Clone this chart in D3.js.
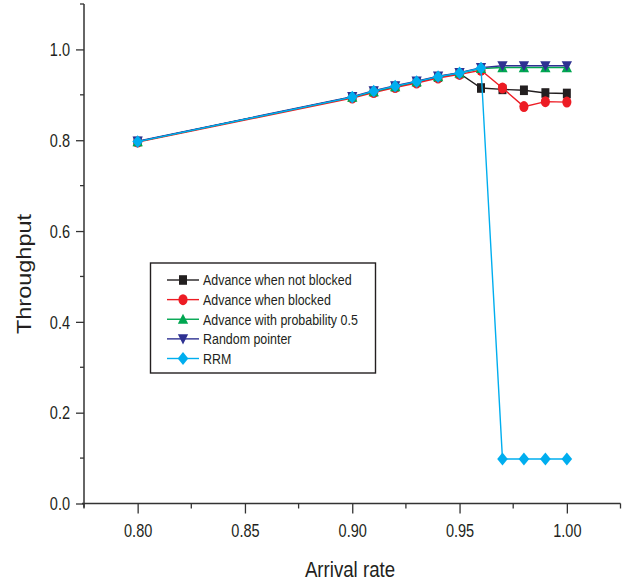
<!DOCTYPE html>
<html>
<head>
<meta charset="utf-8">
<script src="https://cdn.jsdelivr.net/npm/d3@7"></script>
<style>
  html, body { margin: 0; padding: 0; background: #fff; }
  svg { display: block; }
  text { font-family: "Liberation Sans", Arial, sans-serif; fill: #231f20; }
</style>
</head>
<body>
<svg id="chart" width="629" height="586"></svg>
<script>
// Arrival rates along the horizontal axis
const arrival = [0.80, 0.90, 0.91, 0.92, 0.93, 0.94, 0.95, 0.96, 0.97, 0.98, 0.99, 1.00];

// Throughput per scheduling policy
const notBlocked = [0.797, 0.895, 0.907, 0.918, 0.928, 0.939, 0.947, 0.915, 0.912, 0.910, 0.904, 0.903];
const blocked    = [0.796, 0.893, 0.905, 0.916, 0.926, 0.937, 0.945, 0.954, 0.915, 0.874, 0.885, 0.884];
const prob05     = [0.797, 0.895, 0.907, 0.918, 0.929, 0.940, 0.948, 0.958, 0.960, 0.960, 0.960, 0.960];
const randomPtr  = [0.798, 0.896, 0.909, 0.920, 0.930, 0.941, 0.949, 0.960, 0.964, 0.964, 0.964, 0.964];
const rrm        = [0.797, 0.895, 0.908, 0.919, 0.929, 0.940, 0.948, 0.959, 0.098, 0.098, 0.098, 0.098];

const seriesNames = ["Advance when not blocked", "Advance when blocked", "Advance with probability 0.5", "Random pointer", "RRM"];
const seriesValues = [notBlocked, blocked, prob05, randomPtr, rrm];

// Tick values and labels
const xMajorTicks = [0.80, 0.85, 0.90, 0.95, 1.00];
const xMinorTicks = [0.775, 0.825, 0.875, 0.925, 0.975, 1.025];
const yMajorTicks = [0.0, 0.2, 0.4, 0.6, 0.8, 1.0];
const yMinorTicks = [0.1, 0.3, 0.5, 0.7, 0.9, 1.1];

const xTitle = "Arrival rate";
const yTitle = "Throughput";

// Look of each series
const colors = ["#231f20", "#ed1c24", "#00a651", "#2e3192", "#00aeef"];
const shapes = ["square", "circle", "triangleUp", "triangleDown", "diamond"];

const SX = 0.83; // horizontal compression applied to glyphs and markers

const svg = d3.select("#chart");

const x = d3.scaleLinear().domain([0.775, 1.025]).range([84, 620.5]);
const y = d3.scaleLinear().domain([0, 1.1]).range([503.5, 4]);

function markerPath(shape) {
  switch (shape) {
    case "square": { const h = 4.8; return `M${-h},${-h}H${h}V${h}H${-h}Z`; }
    case "circle": { const r = 5.5; return `M${-r},0A${r},${r} 0 1,0 ${r},0A${r},${r} 0 1,0 ${-r},0Z`; }
    case "triangleUp": { const w = 6.2, t = 5.6, b = 4.6; return `M0,${-t}L${w},${b}L${-w},${b}Z`; }
    case "triangleDown": { const w = 6.2, t = 5.6, b = 4.6; return `M0,${t}L${w},${-b}L${-w},${-b}Z`; }
    case "diamond": { const r = 6.4; return `M0,${-r}L${r},0L0,${r}L${-r},0Z`; }
  }
}

// Axes
const axisColor = "#333";
const xAxisG = svg.append("g").attr("transform", `translate(0,${y(0)})`);
xAxisG.call(d3.axisBottom(x).tickValues(xMajorTicks).tickSize(10).tickSizeOuter(0).tickPadding(11)
  .tickFormat(d3.format(".2f")));
xAxisG.select(".domain").attr("stroke", axisColor).attr("stroke-width", 1.5)
  .attr("d", `M${x.range()[0] - 2},0H${x.range()[1]}`);
xAxisG.selectAll(".tick line").attr("stroke", axisColor).attr("stroke-width", 1.3);
xAxisG.selectAll(".tick text").attr("font-size", 17.5).attr("fill", "#231f20")
  .attr("font-family", "Liberation Sans, Arial, sans-serif")
  .attr("transform", `scale(${SX},1)`);
xAxisG.append("g").selectAll("line").data(xMinorTicks).join("line")
  .attr("x1", (d) => x(d)).attr("x2", (d) => x(d)).attr("y1", 0).attr("y2", 5)
  .attr("stroke", axisColor).attr("stroke-width", 1.3);

const yAxisG = svg.append("g").attr("transform", `translate(${x.range()[0]},0)`);
yAxisG.call(d3.axisLeft(y).tickValues(yMajorTicks).tickSize(8).tickSizeOuter(0).tickPadding(6)
  .tickFormat(d3.format(".1f")));
yAxisG.select(".domain").attr("stroke", axisColor).attr("stroke-width", 1.5)
  .attr("d", `M0,${y.range()[1]}V${y.range()[0] + 4}`);
yAxisG.selectAll(".tick line").attr("stroke", axisColor).attr("stroke-width", 1.3);
yAxisG.selectAll(".tick text").attr("font-size", 17.5).attr("fill", "#231f20")
  .attr("font-family", "Liberation Sans, Arial, sans-serif")
  .attr("x", -14 / SX).attr("dy", "0.36em")
  .attr("transform", `scale(${SX},1)`);
yAxisG.append("g").selectAll("line").data(yMinorTicks).join("line")
  .attr("x1", -4).attr("x2", 0).attr("y1", (d) => y(d)).attr("y2", (d) => y(d))
  .attr("stroke", axisColor).attr("stroke-width", 1.3);

// Axis titles
svg.append("g").attr("transform", `translate(350,577) scale(${SX},1)`)
  .append("text").attr("text-anchor", "middle").attr("font-size", 22.5).text(xTitle);
svg.append("g").attr("transform", `translate(30.5,274) scale(${SX},1) rotate(-90)`)
  .append("text").attr("text-anchor", "middle").attr("font-size", 23.5).text(yTitle);

// Series: line first, then its markers, later series on top
const line = d3.line().x((d) => x(d[0])).y((d) => y(d[1]));
seriesValues.forEach((vals, i) => {
  const pts = arrival.map((a, j) => [a, vals[j]]);
  const g = svg.append("g");
  g.append("path").attr("d", line(pts)).attr("fill", "none")
    .attr("stroke", colors[i]).attr("stroke-width", 1.4);
  g.selectAll("path.m").data(pts).join("path").attr("class", "m")
    .attr("d", markerPath(shapes[i]))
    .attr("transform", (d) => `translate(${x(d[0])},${y(d[1])}) scale(${SX},1)`)
    .attr("fill", colors[i]);
});

// Legend
const legend = svg.append("g");
legend.append("rect").attr("x", 150.5).attr("y", 263).attr("width", 225).attr("height", 110)
  .attr("fill", "#fff").attr("stroke", "#231f20").attr("stroke-width", 1.4);
const rowY = d3.scaleLinear().domain([0, 4]).range([280, 358.5]);
seriesNames.forEach((name, i) => {
  const cy = rowY(i);
  legend.append("line").attr("x1", 167).attr("x2", 199).attr("y1", cy).attr("y2", cy)
    .attr("stroke", colors[i]).attr("stroke-width", 1.4);
  legend.append("path").attr("d", markerPath(shapes[i]))
    .attr("transform", `translate(183,${cy}) scale(${SX},1)`).attr("fill", colors[i]);
  legend.append("g").attr("transform", `translate(203,${cy + 5.3}) scale(${SX},1)`)
    .append("text").attr("font-size", 15).text(name);
});
</script>
</body>
</html>
